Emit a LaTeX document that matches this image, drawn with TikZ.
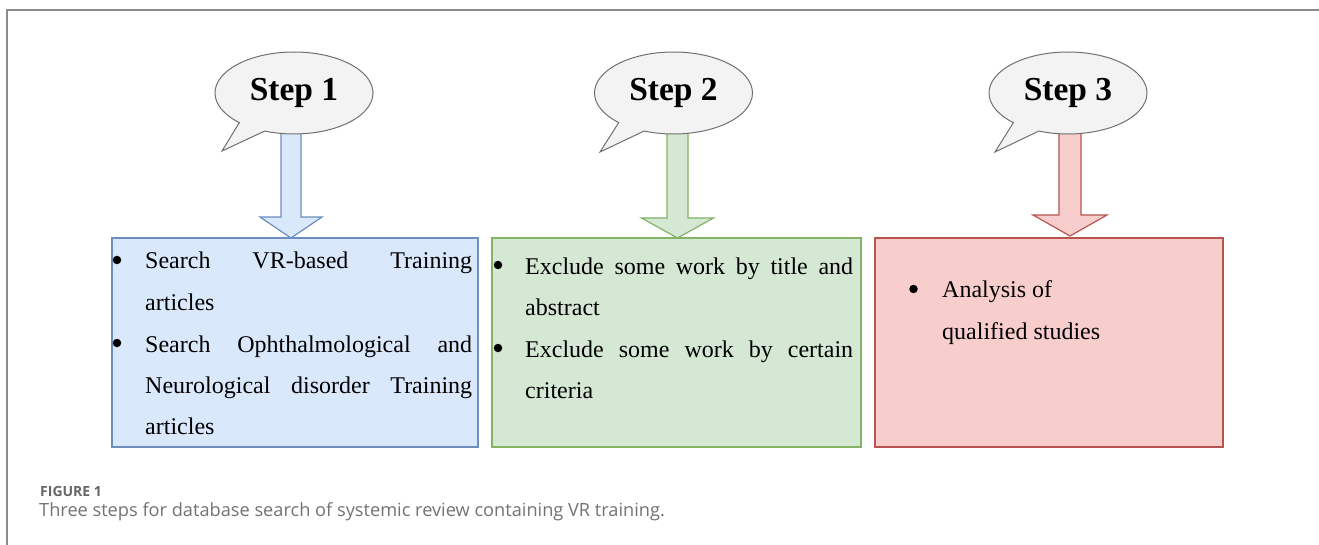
\documentclass[tikz,border=0pt]{standalone}
\usepackage{fontspec}
\setmainfont{Liberation Serif}
\newfontfamily\capfont{Open Sans}
\usetikzlibrary{shapes.callouts,calc}
\definecolor{bluefill}{HTML}{DAE8FC}
\definecolor{bluedraw}{HTML}{6C8EBF}
\definecolor{greenfill}{HTML}{D5E8D4}
\definecolor{greendraw}{HTML}{82B366}
\definecolor{redfill}{HTML}{F8CECC}
\definecolor{reddraw}{HTML}{B85450}
\definecolor{bubblefill}{HTML}{F3F3F3}
\definecolor{bubbledraw}{HTML}{707070}
\definecolor{framegray}{HTML}{8C8C8C}
\definecolor{capgray}{HTML}{737373}
\definecolor{figgray}{HTML}{666666}
\begin{document}
\begin{tikzpicture}[x=1pt,y=-1pt,
  framestyle/.style={draw=framegray,line width=2pt},
  boxstyle/.style={line width=1.3pt,minimum height=209pt,inner sep=0pt},
  bluebox/.style={boxstyle,fill=bluefill,draw=bluedraw},
  greenbox/.style={boxstyle,fill=greenfill,draw=greendraw},
  redbox/.style={boxstyle,fill=redfill,draw=reddraw},
  barrowblue/.style={fill=bluefill,draw=bluedraw,line width=1.2pt,line join=miter},
  barrowgreen/.style={fill=greenfill,draw=greendraw,line width=1.2pt,line join=miter},
  barrowred/.style={fill=redfill,draw=reddraw,line width=1.2pt,line join=miter},
  bubble/.style={ellipse callout,fill=bubblefill,draw=bubbledraw,line width=1pt,
    minimum width=158pt,minimum height=82pt,inner sep=0pt,callout pointer arc=22,
    font=\fontsize{33.5}{33.5}\selectfont\bfseries},
  txt/.style={anchor=base west,inner sep=0pt,font=\fontsize{24}{24}\selectfont},
  bdot/.style={circle,fill=black,inner sep=0pt,minimum size=8.5pt},
  captxt/.style={anchor=base west,inner sep=0pt,text=capgray}
]
\useasboundingbox (0,0) rectangle (1319,545);
\fill[white] (0,0) rectangle (1319,545);

% frame
\coordinate (fa) at (7,545);
\coordinate (fb) at (7,10);
\coordinate (fc) at (1319,10);
\draw[framestyle] (fa) -- (fb) -- (fc);

% boxes
\node[bluebox,minimum width=366pt] (b1) at (295,342.5) {};
\node[greenbox,minimum width=369pt] (b2) at (676.5,342.5) {};
\node[redbox,minimum width=348pt] (b3) at (1049,342.5) {};

% block arrows
\coordinate (a1s) at (291,120); \coordinate (a1t) at (291,238);
\coordinate (a2s) at (677.5,120); \coordinate (a2t) at (677.5,238);
\coordinate (a3s) at (1070,120); \coordinate (a3t) at (1070,236);
\draw[barrowblue] (a1t) -- ($(a1t)+(-31,-21)$) -- ($(a1t)+(-10,-21)$) -- ($(a1s)+(-10,0)$)
  -- ($(a1s)+(10,0)$) -- ($(a1t)+(10,-21)$) -- ($(a1t)+(31,-21)$) -- cycle;
\draw[barrowgreen] (a2t) -- ($(a2t)+(-36,-20)$) -- ($(a2t)+(-10.5,-20)$) -- ($(a2s)+(-10.5,0)$)
  -- ($(a2s)+(10.5,0)$) -- ($(a2t)+(10.5,-20)$) -- ($(a2t)+(36,-20)$) -- cycle;
\draw[barrowred] (a3t) -- ($(a3t)+(-37,-21)$) -- ($(a3t)+(-11,-21)$) -- ($(a3s)+(-11,0)$)
  -- ($(a3s)+(11,0)$) -- ($(a3t)+(11,-21)$) -- ($(a3t)+(37,-21)$) -- cycle;

% speech bubbles
\node[bubble,callout absolute pointer={(222,151)}] (s1) at (294,93) {Step 1};
\node[bubble,callout absolute pointer={(600,152)}] (s2) at (673.5,93) {Step 2};
\node[bubble,callout absolute pointer={(995,152)}] (s3) at (1068,93) {Step 3};

% box 1 text
\node[bdot] (b1d1) at (117,260) {};
\node[txt] (b1l1) at (145,269) {\makebox[327pt][s]{Search VR-based Training}};
\node[txt] (b1l2) at (145,310.5) {articles};
\node[bdot] (b1d2) at (117,343) {};
\node[txt] (b1l3) at (145,352) {\makebox[327pt][s]{Search Ophthalmological and}};
\node[txt] (b1l4) at (145,393.5) {\makebox[327pt][s]{Neurological disorder Training}};
\node[txt] (b1l5) at (145,434) {articles};

% box 2 text
\node[bdot] (b2d1) at (498,265) {};
\node[txt] (b2l1) at (525,274) {\makebox[328pt][s]{Exclude some work by title and}};
\node[txt] (b2l2) at (525,315.5) {abstract};
\node[bdot] (b2d2) at (498,348) {};
\node[txt] (b2l3) at (525,357) {\makebox[328pt][s]{Exclude some work by certain}};
\node[txt] (b2l4) at (525,398.5) {criteria};

% box 3 text
\node[bdot] (b3d1) at (913.5,289) {};
\node[txt] (b3l1) at (942,298) {Analysis of};
\node[txt] (b3l2) at (942,339.5) {qualified studies};

% caption
\node[captxt,text=figgray,font=\capfont\fontsize{14}{14}\selectfont\bfseries] (fig) at (40,496.5) {FIGURE 1};
\node[captxt,font=\capfont\fontsize{18.2}{18.2}\selectfont] (cap) at (39,516.5)
  {Three steps for database search of systemic review containing VR training.};
\end{tikzpicture}
\end{document}
